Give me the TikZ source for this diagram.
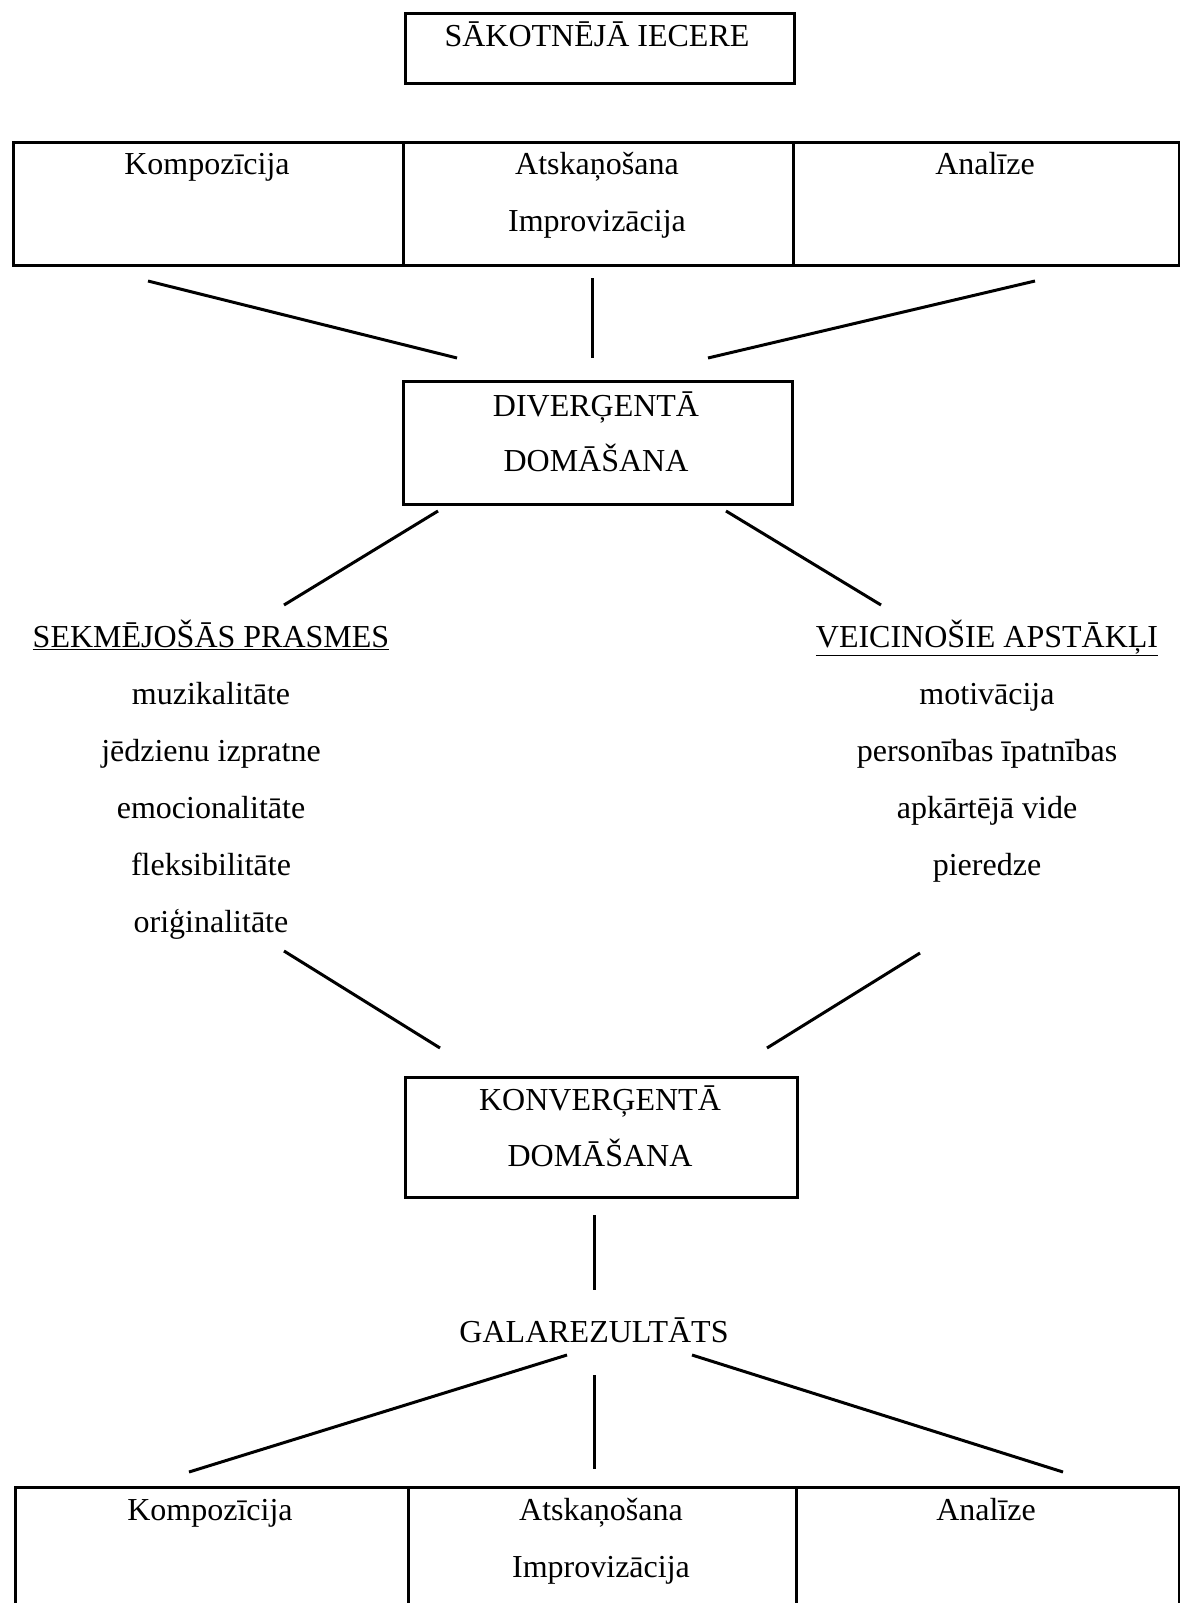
\documentclass[tikz,border=0pt]{standalone}
\usepackage{fontspec}
\setmainfont{Liberation Serif}
\usetikzlibrary{positioning}

\tikzset{
  frame/.style={draw,line width=3pt,inner sep=0pt,anchor=north west},
  txt/.style={font=\fontsize{32}{38}\selectfont,inner sep=0pt,anchor=base},
  link/.style={line width=3pt},
}

\begin{document}
\begin{tikzpicture}[x=1pt,y=-1pt]
\useasboundingbox[fill=white] (0,0) rectangle (1180,1603);
% starting idea
\node[frame,minimum width=389pt,minimum height=70pt] (start) at (404,12) {};
\node[txt] (startlbl) at (597,47) {SĀKOTNĒJĀ IECERE};
% upper row of activities
\foreach \n/\x/\w in {komp/12/390,atsk/402/390,anal/792/386}{
  \node[frame,minimum width=\w pt,minimum height=123pt] (\n1) at (\x,141) {};}
\node[txt] (komp1lbl) at (207,174) {Kompozīcija};
\node[txt] (atsk1lbl) at (597,174) {Atskaņošana};
\node[txt] (impr1lbl) at (597,231) {Improvizācija};
\node[txt] (anal1lbl) at (985,174) {Analīze};
% divergent thinking
\node[frame,minimum width=389pt,minimum height=123pt] (div) at (402,380) {};
\node[txt] (div1) at (596,416) {DIVERĢENTĀ};
\node[txt] (div2) at (596,471) {DOMĀŠANA};
% skills and conditions
\node[txt] (skills) at (211,647) {\underline{SEKMĒJOŠĀS PRASMES}};
\foreach \t [count=\i] in {muzikalitāte,jēdzienu izpratne,emocionalitāte,fleksibilitāte,oriģinalitāte}{
  \node[txt] (sk\i) at (211,{704+57*(\i-1)}) {\t};}
\node[txt] (conds) at (987,647) {\underline{VEICINOŠIE APSTĀKĻI}};
\foreach \t [count=\i] in {motivācija,personības īpatnības,apkārtējā vide,pieredze}{
  \node[txt] (cd\i) at (987,{704+57*(\i-1)}) {\t};}
% convergent thinking
\node[frame,minimum width=392pt,minimum height=120pt] (konv) at (404,1076) {};
\node[txt] (konv1) at (600,1110) {KONVERĢENTĀ};
\node[txt] (konv2) at (600,1166) {DOMĀŠANA};
\node[txt] (result) at (594,1342) {GALAREZULTĀTS};
% lower row of activities
\foreach \n/\x/\w in {komp/14/393,atsk/407/388,anal/795/383}{
  \node[frame,minimum width=\w pt,minimum height=140pt] (\n2) at (\x,1486) {};}
\node[txt] (komp2lbl) at (210,1520) {Kompozīcija};
\node[txt] (atsk2lbl) at (601,1520) {Atskaņošana};
\node[txt] (impr2lbl) at (601,1577) {Improvizācija};
\node[txt] (anal2lbl) at (986,1520) {Analīze};
% connector ends
\coordinate (a1) at (148,281);  \coordinate (a2) at (457,358);
\coordinate (b1) at (592,278);  \coordinate (b2) at (592,358);
\coordinate (c1) at (1035,281); \coordinate (c2) at (708,358);
\coordinate (d1) at (438,511);  \coordinate (d2) at (284,605);
\coordinate (e1) at (726,511);  \coordinate (e2) at (881,605);
\coordinate (f1) at (284,951);  \coordinate (f2) at (440,1048);
\coordinate (g1) at (920,953);  \coordinate (g2) at (767,1048);
\coordinate (h1) at (594,1215); \coordinate (h2) at (594,1290);
\coordinate (i1) at (567,1355); \coordinate (i2) at (189,1472);
\coordinate (j1) at (594,1375); \coordinate (j2) at (594,1469);
\coordinate (k1) at (692,1355); \coordinate (k2) at (1063,1472);
\foreach \p in {a,b,c,d,e,f,g,h,i,j,k}{
  \draw[link] (\p1) -- (\p2);}
\end{tikzpicture}
\end{document}
